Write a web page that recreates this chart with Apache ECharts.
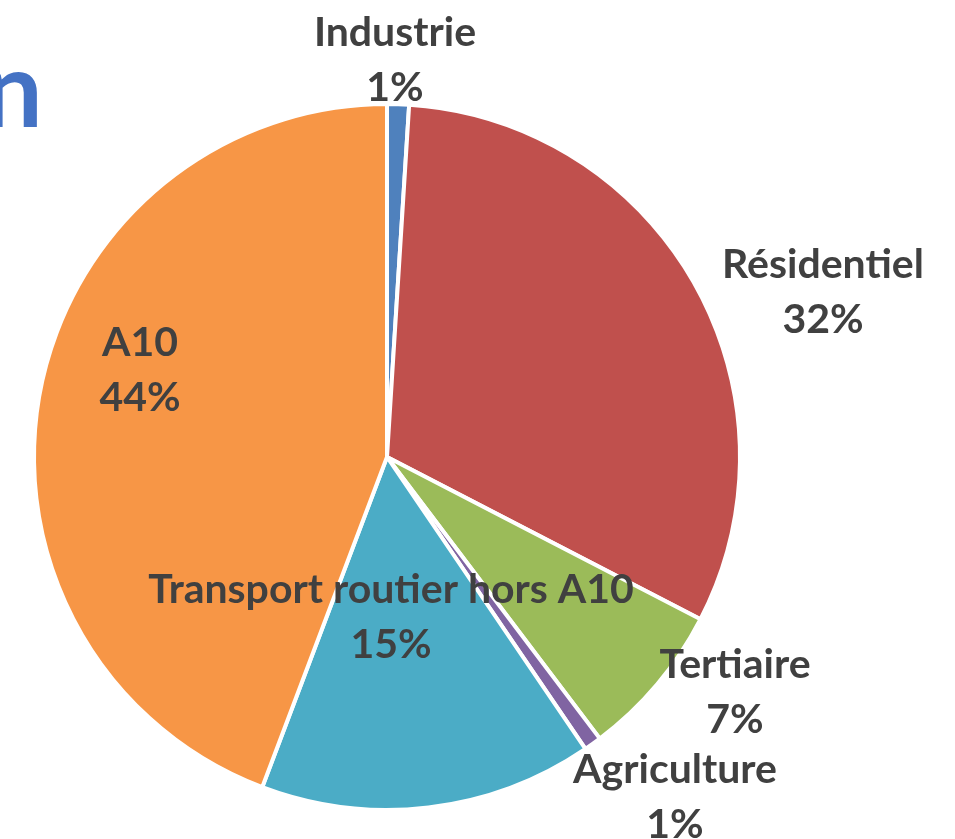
<!DOCTYPE html>
<html>
<head>
<meta charset="utf-8">
<script src="https://cdn.jsdelivr.net/npm/echarts@6/dist/echarts.min.js"></script>
<style>
  html, body { margin: 0; padding: 0; background: #fff; }
  #main { width: 955px; height: 839px; }
</style>
</head>
<body>
<div id="main"></div>
<script>
// secteurs, dans l'ordre horaire depuis midi
var categories = ["Industrie", "Résidentiel", "Tertiaire", "Agriculture", "Transport routier hors A10", "A10"];
var values = [1.0, 31.6, 7.1, 0.8, 15.25, 44.25];
var colors = ["#4F81BD", "#C0504D", "#9BBB59", "#8064A2", "#4BACC6", "#F79646"];

// position des étiquettes (centre du bloc de texte)
var labelPos = [[395, 60], [823, 292], [735, 692], [675, 797], [391, 617], [140, 370]];

var chart = echarts.init(document.getElementById("main"));

var data = [];
for (var i = 0; i < categories.length; i++) {
  data.push({ name: categories[i], value: values[i], itemStyle: { color: colors[i] } });
}

chart.setOption({
  animation: false,
  graphic: [
    {
      type: "text",
      left: -17,
      top: 40,
      style: {
        text: "n",
        font: "bold 106px Lato",
        fill: "#4472C4"
      }
    }
  ],
  series: [
    {
      type: "pie",
      center: [387, 457],
      radius: 353,
      startAngle: 90,
      clockwise: true,
      data: data,
      itemStyle: { borderColor: "#fff", borderWidth: 4 },
      labelLine: { show: false },
      label: {
        show: true,
        position: "inside",
        overflow: "none",
        formatter: function (p) {
          return "{a|" + p.name + "}\n{a|" + Math.round(p.percent) + "%}";
        },
        rich: {
          a: {
            fontFamily: "Lato",
            fontWeight: "bold",
            fontSize: 41,
            color: "#404040",
            lineHeight: 55,
            align: "center"
          }
        }
      },
      labelLayout: function (params) {
        var p = labelPos[params.dataIndex];
        return { x: p[0], y: p[1], align: "center", verticalAlign: "middle" };
      }
    }
  ]
});
</script>
</body>
</html>
